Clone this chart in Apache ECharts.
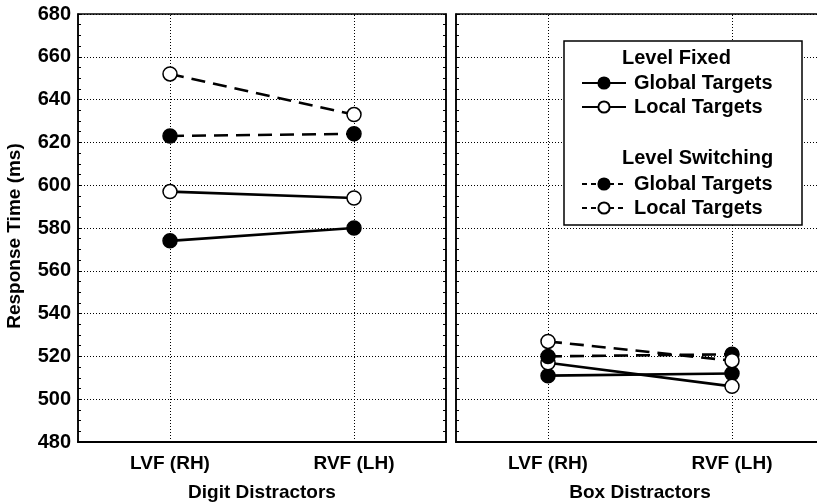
<!DOCTYPE html>
<html>
<head>
<meta charset="utf-8">
<script src="https://cdn.jsdelivr.net/npm/echarts@6/dist/echarts.min.js"></script>
<style>
  html, body { margin: 0; padding: 0; background: #fff; }
  #main { width: 817px; height: 504px; }
</style>
</head>
<body>
<div id="main"></div>
<script>
// categories (visual field) and panel names
var categories = ['LVF (RH)', 'RVF (LH)']
var panelNames = ['Digit Distractors', 'Box Distractors']
// response times (ms), digit distractors
var digitFixedGlobal = [574, 580]
var digitFixedLocal = [597, 594]
var digitSwitchGlobal = [623, 624]
var digitSwitchLocal = [652, 633]
// response times (ms), box distractors
var boxFixedGlobal = [511, 512]
var boxFixedLocal = [517, 506]
var boxSwitchGlobal = [520, 521]
var boxSwitchLocal = [527, 518]
// y scale
var yMin = 480
var yMax = 680
var yStep = 20

var font = "'Liberation Sans', Arial, sans-serif"
var dash = [14, 8]

function makeSeries(name, data, panel, dashed, filled, withGrid) {
  var s = {
    name: name,
    type: 'line',
    z: 3,
    xAxisIndex: panel,
    yAxisIndex: panel * 2,
    data: data,
    symbol: 'circle',
    symbolSize: 14,
    showSymbol: true,
    lineStyle: { color: '#000', width: 2.6, type: dashed ? dash : 'solid' },
    itemStyle: {
      color: filled ? '#000' : '#fff',
      borderColor: '#000',
      borderWidth: 1.5
    },
    emphasis: { disabled: true }
  }
  // vertical dotted lines at each category, kept under the marks
  if (withGrid) {
    s.markLine = {
      silent: true,
      z: 1,
      symbol: ['none', 'none'],
      label: { show: false },
      lineStyle: { color: '#000', type: [1, 2], width: 1 },
      data: [{ xAxis: categories[0] }, { xAxis: categories[1] }]
    }
  }
  return s
}

function makeXAxis(panel) {
  return {
    type: 'category',
    gridIndex: panel,
    data: categories,
    boundaryGap: true,
    axisLine: { lineStyle: { color: '#000', width: 2 } },
    axisTick: { show: false },
    splitLine: { show: false },
    axisLabel: { color: '#000', fontSize: 19, fontWeight: 'bold', fontFamily: font, margin: 12 },
    name: panelNames[panel],
    nameLocation: 'middle',
    nameGap: 41,
    nameTextStyle: { color: '#000', fontSize: 19, fontWeight: 'bold', fontFamily: font }
  }
}

function makeYAxis(panel, pos, labels) {
  var ax = {
    type: 'value',
    gridIndex: panel,
    position: pos,
    min: yMin,
    max: yMax,
    interval: yStep,
    axisLine: { show: true, lineStyle: { color: '#000', width: 1.5 } },
    axisTick: { show: true, inside: true, length: 3, lineStyle: { color: '#000' } },
    minorTick: { show: true, splitNumber: 4, length: 3, lineStyle: { color: '#000' } },
    splitLine: { show: pos === 'left', lineStyle: { color: '#000', type: [1, 2], width: 1 } },
    axisLabel: { show: labels, color: '#000', fontSize: 20, fontWeight: 'bold', fontFamily: font, margin: 7 }
  }
  if (labels) {
    ax.name = 'Response Time (ms)'
    ax.nameLocation = 'middle'
    ax.nameGap = 54
    ax.nameTextStyle = { color: '#000', fontSize: 19, fontWeight: 'bold', fontFamily: font, padding: [0, 16, 0, 0] }
  }
  return ax
}

var legendText = { color: '#000', fontSize: 20, fontWeight: 'bold', fontFamily: font, padding: [0, 0, 0, 3] }
function legendFormatter(name) {
  return name.indexOf('Global') >= 0 ? 'Global Targets' : 'Local Targets'
}

var myChart = echarts.init(document.getElementById('main'))
var option = {
  animation: false,
  backgroundColor: '#fff',
  grid: [
    { left: 78, top: 14, width: 368, bottom: 62, show: true, borderColor: '#000', borderWidth: 1.5, outerBoundsMode: 'none' },
    { left: 456, top: 14, width: 368, bottom: 62, show: true, borderColor: '#000', borderWidth: 1.5, outerBoundsMode: 'none' }
  ],
  xAxis: [makeXAxis(0), makeXAxis(1)],
  yAxis: [
    makeYAxis(0, 'left', true),
    makeYAxis(0, 'right', false),
    makeYAxis(1, 'left', false),
    makeYAxis(1, 'right', false)
  ],
  legend: [
    {
      orient: 'vertical',
      left: 576,
      top: 68,
      itemWidth: 44,
      itemHeight: 14,
      itemGap: 4,
      z: 6,
      selectedMode: false,
      textStyle: legendText,
      formatter: legendFormatter,
      data: ['Fixed Global', 'Fixed Local']
    },
    {
      orient: 'vertical',
      left: 576,
      top: 169,
      itemWidth: 44,
      itemHeight: 14,
      itemGap: 4,
      z: 6,
      selectedMode: false,
      textStyle: legendText,
      formatter: legendFormatter,
      lineStyle: { type: [5, 4] },
      data: ['Switching Global', 'Switching Local']
    }
  ],
  graphic: [
    {
      type: 'rect',
      z: 4,
      shape: { x: 564, y: 41, width: 238, height: 184 },
      style: { fill: '#fff', stroke: '#000', lineWidth: 1.5 }
    },
    {
      type: 'text',
      z: 6,
      left: 622,
      top: 48,
      style: { text: 'Level Fixed', fill: '#000', font: 'bold 20px ' + font }
    },
    {
      type: 'text',
      z: 6,
      left: 622,
      top: 148,
      style: { text: 'Level Switching', fill: '#000', font: 'bold 20px ' + font }
    }
  ],
  series: [
    makeSeries('Fixed Global', digitFixedGlobal, 0, false, true, true),
    makeSeries('Fixed Local', digitFixedLocal, 0, false, false),
    makeSeries('Switching Global', digitSwitchGlobal, 0, true, true),
    makeSeries('Switching Local', digitSwitchLocal, 0, true, false),
    makeSeries('Fixed Global', boxFixedGlobal, 1, false, true, true),
    makeSeries('Fixed Local', boxFixedLocal, 1, false, false),
    makeSeries('Switching Global', boxSwitchGlobal, 1, true, true),
    makeSeries('Switching Local', boxSwitchLocal, 1, true, false)
  ]
}
option && myChart.setOption(option, true)
</script>
</body>
</html>
